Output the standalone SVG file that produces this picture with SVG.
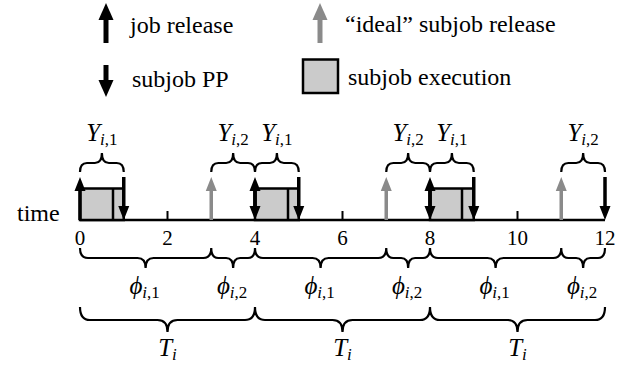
<svg xmlns="http://www.w3.org/2000/svg" width="631" height="370" viewBox="0 0 631 370">
  <rect width="631" height="370" fill="#fff"/>

  <g id="legend">
    <g id="leg-job-release">
      <line x1="106" y1="43" x2="106" y2="16" stroke="#000" stroke-width="5"/>
      <path d="M106,3 l-7.5,17 l15,0 z" fill="#000"/>
      <text x="130" y="33" font-size="24" font-family="Liberation Serif">job release</text>
    </g>
    <g id="leg-ideal-release">
      <line x1="320" y1="43" x2="320" y2="16" stroke="#8a8a8a" stroke-width="5"/>
      <path d="M320,3 l-7.5,17 l15,0 z" fill="#8a8a8a"/>
      <text x="345" y="32" font-size="24" font-family="Liberation Serif">“ideal” subjob release</text>
    </g>
    <g id="leg-subjob-pp">
      <line x1="106" y1="65" x2="106" y2="84" stroke="#000" stroke-width="5"/>
      <path d="M106,97 l-7.5,-17 l15,0 z" fill="#000"/>
      <text x="132" y="87" font-size="24" font-family="Liberation Serif">subjob PP</text>
    </g>
    <g id="leg-subjob-exec">
      <rect x="303" y="59.5" width="35" height="33.5" fill="#cbcbcb" stroke="#000" stroke-width="2.5"/>
      <text x="348" y="85" font-size="24" font-family="Liberation Serif">subjob execution</text>
    </g>
  </g>

  <g id="axis">
    <text x="17" y="221" font-size="24" font-family="Liberation Serif">time</text>
    <line x1="80" y1="220" x2="605" y2="220" stroke="#000" stroke-width="2.5"/>
    <path d="M167.5,220 v-9 M342.5,220 v-9 M517.5,220 v-9" stroke="#000" stroke-width="2" fill="none"/>
    <text x="74.75" y="245" font-size="21" font-family="Liberation Serif">0</text>
    <text x="162.25" y="245" font-size="21" font-family="Liberation Serif">2</text>
    <text x="249.75" y="245" font-size="21" font-family="Liberation Serif">4</text>
    <text x="337.25" y="245" font-size="21" font-family="Liberation Serif">6</text>
    <text x="424.75" y="245" font-size="21" font-family="Liberation Serif">8</text>
    <text x="507" y="245" font-size="21" font-family="Liberation Serif">10</text>
    <text x="594.5" y="245" font-size="21" font-family="Liberation Serif">12</text>
  </g>

  <g id="executions" fill="#cbcbcb" stroke="#000" stroke-width="2.5">
    <g id="exec-1">
      <rect x="80" y="188.5" width="43.75" height="31.5"/>
      <line x1="113" y1="188.5" x2="113" y2="220"/>
    </g>
    <g id="exec-2">
      <rect x="255" y="188.5" width="43.75" height="31.5"/>
      <line x1="288" y1="188.5" x2="288" y2="220"/>
    </g>
    <g id="exec-3">
      <rect x="430" y="188.5" width="43.75" height="31.5"/>
      <line x1="462" y1="188.5" x2="462" y2="220"/>
    </g>
  </g>

  <g id="connectors">
    <g id="job-releases">
      <path d="M80,220 V189 M255,212 V189 M430,212 V189" stroke="#000" stroke-width="3.5" fill="none"/>
      <path d="M80,177 l-5.5,14 l11,0 z M255,177 l-5.5,14 l11,0 z M430,177 l-5.5,14 l11,0 z" fill="#000"/>
    </g>
    <g id="preemption-points">
      <path d="M123.75,177 V208 M255,190 V208 M298.75,177 V208 M430,190 V208 M473.75,177 V208 M605,177 V208" stroke="#000" stroke-width="3.5" fill="none"/>
      <path d="M123.75,220 l-5.5,-14 l11,0 z M255,220 l-5.5,-14 l11,0 z M298.75,220 l-5.5,-14 l11,0 z M430,220 l-5.5,-14 l11,0 z M473.75,220 l-5.5,-14 l11,0 z M605,220 l-5.5,-14 l11,0 z" fill="#000"/>
    </g>
    <g id="ideal-releases">
      <path d="M211.25,220 V189 M386.25,220 V189 M561.25,220 V189" stroke="#8a8a8a" stroke-width="3.5" fill="none"/>
      <path d="M211.25,177 l-5.5,14 l11,0 z M386.25,177 l-5.5,14 l11,0 z M561.25,177 l-5.5,14 l11,0 z" fill="#8a8a8a"/>
    </g>
  </g>

  <g id="braces-Y">
    <path fill="none" stroke="#000" stroke-width="2.2" d="M80,172 q0,-9 7,-9 l7.9,0 q7,0 7,-10 q0,10 7,10 l7.85,0 q7,0 7,9 M211.25,172 q0,-9 7,-9 l7.9,0 q7,0 7,-10 q0,10 7,10 l7.85,0 q7,0 7,9 M255,172 q0,-9 7,-9 l7.9,0 q7,0 7,-10 q0,10 7,10 l7.85,0 q7,0 7,9 M386.25,172 q0,-9 7,-9 l7.9,0 q7,0 7,-10 q0,10 7,10 l7.85,0 q7,0 7,9 M430,172 q0,-9 7,-9 l7.9,0 q7,0 7,-10 q0,10 7,10 l7.85,0 q7,0 7,9 M561.25,172 q0,-9 7,-9 l7.9,0 q7,0 7,-10 q0,10 7,10 l7.85,0 q7,0 7,9"/>
    <text x="86.2" y="141" font-size="25" font-family="Liberation Serif" font-style="italic">Y<tspan font-size="17" dy="4">i<tspan font-style="normal">,1</tspan></tspan></text>
    <text x="217.4" y="141" font-size="25" font-family="Liberation Serif" font-style="italic">Y<tspan font-size="17" dy="4">i<tspan font-style="normal">,2</tspan></tspan></text>
    <text x="261.2" y="141" font-size="25" font-family="Liberation Serif" font-style="italic">Y<tspan font-size="17" dy="4">i<tspan font-style="normal">,1</tspan></tspan></text>
    <text x="392.4" y="141" font-size="25" font-family="Liberation Serif" font-style="italic">Y<tspan font-size="17" dy="4">i<tspan font-style="normal">,2</tspan></tspan></text>
    <text x="436.2" y="141" font-size="25" font-family="Liberation Serif" font-style="italic">Y<tspan font-size="17" dy="4">i<tspan font-style="normal">,1</tspan></tspan></text>
    <text x="567.4" y="141" font-size="25" font-family="Liberation Serif" font-style="italic">Y<tspan font-size="17" dy="4">i<tspan font-style="normal">,2</tspan></tspan></text>
  </g>

  <g id="braces-phi">
    <path fill="none" stroke="#000" stroke-width="2.2" d="M80,248 q0,10 8,10 l49.6,0 q8,0 8,10 q0,-10 8,-10 l49.65,0 q8,0 8,-10 M255,248 q0,10 8,10 l49.6,0 q8,0 8,10 q0,-10 8,-10 l49.65,0 q8,0 8,-10 M430,248 q0,10 8,10 l49.6,0 q8,0 8,10 q0,-10 8,-10 l49.65,0 q8,0 8,-10 M211.25,248 q0,10 7,10 l7.9,0 q7,0 7,10 q0,-10 7,-10 l7.85,0 q7,0 7,-10 M386.25,248 q0,10 7,10 l7.9,0 q7,0 7,10 q0,-10 7,-10 l7.85,0 q7,0 7,-10 M561.25,248 q0,10 7,10 l7.9,0 q7,0 7,10 q0,-10 7,-10 l7.85,0 q7,0 7,-10"/>
    <text x="129.4" y="294" font-size="25" font-family="Liberation Serif" font-style="italic">ϕ<tspan font-size="17" dy="4">i<tspan font-style="normal">,1</tspan></tspan></text>
    <text x="216.9" y="294" font-size="25" font-family="Liberation Serif" font-style="italic">ϕ<tspan font-size="17" dy="4">i<tspan font-style="normal">,2</tspan></tspan></text>
    <text x="304.4" y="294" font-size="25" font-family="Liberation Serif" font-style="italic">ϕ<tspan font-size="17" dy="4">i<tspan font-style="normal">,1</tspan></tspan></text>
    <text x="391.9" y="294" font-size="25" font-family="Liberation Serif" font-style="italic">ϕ<tspan font-size="17" dy="4">i<tspan font-style="normal">,2</tspan></tspan></text>
    <text x="479.4" y="294" font-size="25" font-family="Liberation Serif" font-style="italic">ϕ<tspan font-size="17" dy="4">i<tspan font-style="normal">,1</tspan></tspan></text>
    <text x="566.9" y="294" font-size="25" font-family="Liberation Serif" font-style="italic">ϕ<tspan font-size="17" dy="4">i<tspan font-style="normal">,2</tspan></tspan></text>
  </g>

  <g id="braces-T">
    <path fill="none" stroke="#000" stroke-width="2.2" d="M80,307 q0,13 10,13 l67.5,0 q10,0 10,12 q0,-12 10,-12 l67.5,0 q10,0 10,-13 M255,307 q0,13 10,13 l67.5,0 q10,0 10,12 q0,-12 10,-12 l67.5,0 q10,0 10,-13 M430,307 q0,13 10,13 l67.5,0 q10,0 10,12 q0,-12 10,-12 l67.5,0 q10,0 10,-13"/>
    <text x="158.2" y="356" font-size="25" font-family="Liberation Serif" font-style="italic">T<tspan font-size="17" dy="4">i</tspan></text>
    <text x="333.2" y="356" font-size="25" font-family="Liberation Serif" font-style="italic">T<tspan font-size="17" dy="4">i</tspan></text>
    <text x="508.2" y="356" font-size="25" font-family="Liberation Serif" font-style="italic">T<tspan font-size="17" dy="4">i</tspan></text>
  </g>
</svg>
